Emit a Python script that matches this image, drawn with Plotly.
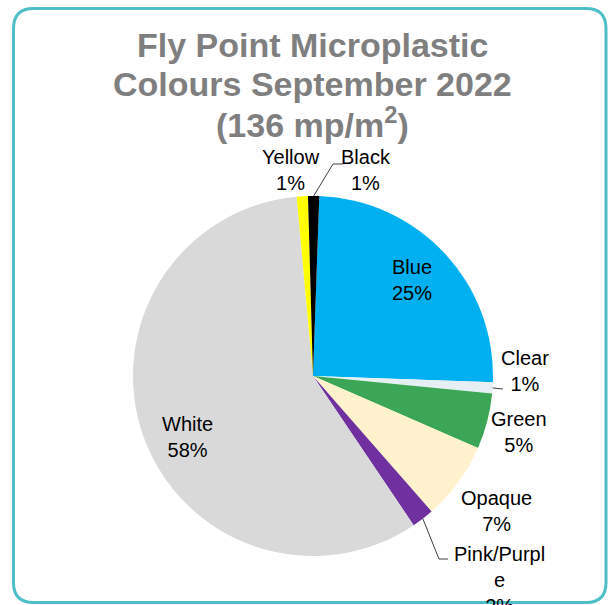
import math
import plotly.graph_objects as go

# Microplastic colour breakdown, Fly Point, September 2022 (percent of particles)
categories = ["Blue", "Clear", "Green", "Opaque", "Pink/Purple", "White", "Yellow", "Black"]
shares = [25, 1, 5, 7, 2, 58, 1, 1]
label_lines = ["Blue", "Clear", "Green", "Opaque", "Pink/Purpl<br>e", "White", "Yellow", "Black"]
slice_colors = ["#00B0F0", "#E6F0F4", "#3BA655", "#FFF2CC", "#7030A0", "#D9D9D9", "#FFFF00", "#000000"]
title_lines = ["Fly Point Microplastic", "Colours September 2022", "(136 mp/m<sup>2</sup>)"]

W, H = 610, 605
CX, CY, R = 313, 376, 180          # pie centre and radius in pixels
ROTATION = 2                       # degrees clockwise from 12 o'clock


def px(x):
    return x / W


def py(y):
    return 1 - y / H


# label block centres (pixels)
label_pos = {
    "Blue": (412, 280), "Clear": (525, 371), "Green": (519, 432),
    "Opaque": (496, 511), "Pink/Purple": (499, 580), "White": (187, 437),
    "Yellow": (291, 170), "Black": (366, 170),
}
# leader line elbows and ends (pixels) for the slices that have one
leader_path = {
    "Black": [(333, 164), (343, 164)],
    "Clear": [(503, 389)],
    "Pink/Purple": [(439, 559), (448, 559)],
}

fig = go.Figure(go.Pie(
    labels=categories,
    values=shares,
    sort=False,
    direction="clockwise",
    rotation=ROTATION,
    marker=dict(colors=slice_colors, line=dict(width=0)),
    textinfo="none",
    hoverinfo="label+percent",
    showlegend=False,
    domain=dict(x=[px(CX - R), px(CX + R)], y=[py(CY + R), py(CY - R)]),
))

total = sum(shares)
annotations = []
shapes = []

# slice labels
for cat, txt, v in zip(categories, label_lines, shares):
    x, y = label_pos[cat]
    annotations.append(dict(
        x=px(x), y=py(y), xref="paper", yref="paper",
        text=f"{txt}<br>{v / total * 100:.0f}%",
        showarrow=False, xanchor="center", yanchor="middle", align="center",
        font=dict(family="Liberation Sans, Arial, sans-serif", size=20, color="#000000"),
    ))

# leader lines start on the rim at each slice's mid angle
cum = 0
for cat, v in zip(categories, shares):
    mid = ROTATION + (cum + v / 2) / total * 360
    cum += v
    if cat not in leader_path:
        continue
    a = math.radians(mid)
    pts = [(CX + R * math.sin(a), CY - R * math.cos(a))] + leader_path[cat]
    d = "M " + " L ".join(f"{px(x):.5f},{py(y):.5f}" for x, y in pts)
    shapes.append(dict(type="path", path=d, xref="paper", yref="paper",
                       line=dict(color="#404040", width=1)))

# chart title, one line per annotation for tight line spacing
for i, t in enumerate(title_lines):
    annotations.append(dict(
        x=px(312), y=py(45 + i * 38.5), xref="paper", yref="paper",
        text=f"<b>{t}</b>", showarrow=False, xanchor="center", yanchor="middle",
        font=dict(family="Liberation Sans, Arial, sans-serif", size=34, color="#7F7F7F"),
    ))

# rounded chart-area frame
x0, y0, x1, y1, rr = 13.5, 8.5, 606, 602.5, 20
frame = (
    f"M {px(x0 + rr)},{py(y0)} L {px(x1 - rr)},{py(y0)} "
    f"Q {px(x1)},{py(y0)} {px(x1)},{py(y0 + rr)} "
    f"L {px(x1)},{py(y1 - rr)} Q {px(x1)},{py(y1)} {px(x1 - rr)},{py(y1)} "
    f"L {px(x0 + rr)},{py(y1)} Q {px(x0)},{py(y1)} {px(x0)},{py(y1 - rr)} "
    f"L {px(x0)},{py(y0 + rr)} Q {px(x0)},{py(y0)} {px(x0 + rr)},{py(y0)} Z"
)
shapes.append(dict(type="path", path=frame, xref="paper", yref="paper",
                   line=dict(color="#4FBFC7", width=3), layer="above"))

fig.update_layout(
    width=W, height=H,
    margin=dict(l=0, r=0, t=0, b=0),
    paper_bgcolor="#FFFFFF",
    plot_bgcolor="#FFFFFF",
    annotations=annotations,
    shapes=shapes,
)

fig.write_html("out.html")
